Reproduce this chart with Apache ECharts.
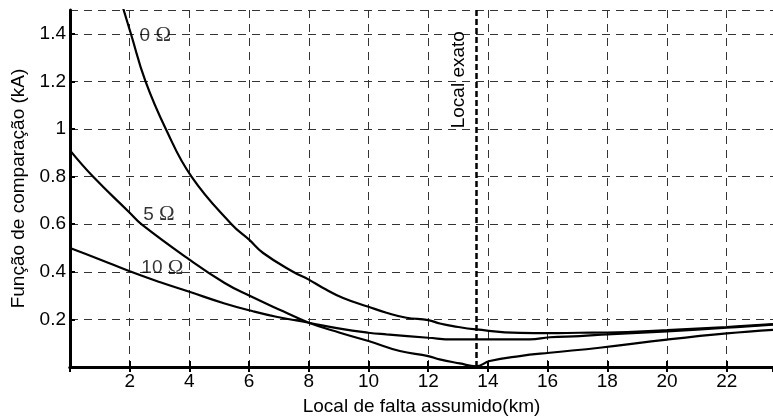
<!DOCTYPE html>
<html>
<head>
<meta charset="utf-8">
<script src="https://cdn.jsdelivr.net/npm/echarts@6/dist/echarts.min.js"></script>
<style>
  html, body { margin: 0; padding: 0; background: #fff; }
  #chart { width: 773px; height: 417px; }
</style>
</head>
<body>
<div id="chart"></div>
<script>
// curves (km, kA)
const x0 = [1.75, 2.04, 2.53, 3.21, 4.07, 5.41, 6.0, 6.47, 7.47, 8.0, 8.48, 9.15, 10.0, 10.6, 11.27, 12.0, 12.39, 12.83, 13.6, 15.07, 16.07, 17.07, 18, 20, 22, 23.55];
const y0 = [1.52, 1.4, 1.2, 1.0, 0.8, 0.6, 0.535, 0.479, 0.4, 0.367, 0.332, 0.29, 0.253, 0.228, 0.207, 0.197, 0.183, 0.172, 0.158, 0.143, 0.142, 0.144, 0.145, 0.155, 0.168, 0.18];

const x5 = [0, 0.77, 2, 2.39, 4, 5.18, 6, 7.14, 8, 9.04, 10, 11.05, 12, 12.38, 13.06, 13.6, 14.06, 15.07, 16.07, 17.74, 20, 22, 23.55];
const y5 = [0.91, 0.8, 0.648, 0.6, 0.451, 0.353, 0.3, 0.234, 0.186, 0.144, 0.109, 0.067, 0.046, 0.032, 0.015, 0.003, 0.025, 0.046, 0.06, 0.081, 0.115, 0.141, 0.156];

const x10 = [0, 1, 2, 3, 4, 5.18, 6.13, 6.91, 8, 9.04, 10, 10.6, 12, 12.83, 15.4, 16.07, 17.07, 18, 20, 22, 23.55];
const y10 = [0.5, 0.452, 0.402, 0.357, 0.316, 0.267, 0.234, 0.211, 0.186, 0.161, 0.144, 0.137, 0.123, 0.116, 0.116, 0.125, 0.13, 0.137, 0.15, 0.165, 0.178];

const exactLocation = 13.6;
const exactLabelTop = 1.445;

// curve labels: [x, y, resistance]
const curveLabels = [[2.33, 1.392, '0'], [2.45, 0.639, '5'], [2.39, 0.416, '10']];

const font = '"Liberation Sans", Arial, sans-serif';

function pairs(xs, ys) {
  return xs.map((x, i) => [x, ys[i]]);
}

function curve(name, xs, ys) {
  return {
    name: name,
    type: 'line',
    data: pairs(xs, ys),
    showSymbol: false,
    symbol: 'none',
    smooth: 0.45,
    clip: true,
    lineStyle: { color: '#000', width: 2.2 },
    animation: false
  };
}

const chart = echarts.init(document.getElementById('chart'));

const series = [
  curve('0', x0, y0),
  curve('5', x5, y5),
  curve('10', x10, y10),
  {
    type: 'scatter',
    data: curveLabels.map(d => [d[0], d[1], d[2]]),
    symbolSize: 0,
    animation: false,
    label: {
      show: true,
      position: 'right',
      distance: 0,
      formatter: p => p.value[2] + ' {o|Ω}',
      color: '#000',
      fontFamily: font,
      fontSize: 19,
      rich: { o: { fontFamily: '"Liberation Serif", "Times New Roman", serif', fontSize: 21, color: '#000' } }
    }
  }
];

// vertical marker for the exact location
series[0].markLine = {
  silent: true,
  symbol: 'none',
  animation: false,
  lineStyle: { color: '#000', width: 2.5, type: [6, 3] },
  label: { show: false },
  data: [{ xAxis: exactLocation }]
};

// its label sits on a transparent segment that stops below the top
series[1].markLine = {
  silent: true,
  symbol: 'none',
  animation: false,
  lineStyle: { color: 'transparent', width: 1 },
  label: {
    show: true,
    position: 'insideEndTop',
    formatter: 'Local exato',
    color: '#000',
    fontFamily: font,
    fontSize: 19,
    distance: 8
  },
  data: [[{ coord: [exactLocation, 0] }, { coord: [exactLocation, exactLabelTop] }]]
};

chart.setOption({
  backgroundColor: '#fff',
  grid: { left: 70, right: 0, top: 10, bottom: 50, outerBoundsMode: 'none' },
  xAxis: [
    {
      type: 'value',
      min: 0,
      max: 23.55,
      interval: 2,
      position: 'bottom',
      name: 'Local de falta assumido(km)',
      nameLocation: 'middle',
      nameGap: 30,
      nameTextStyle: { color: '#000', fontFamily: font, fontSize: 19 },
      axisLine: { show: true, onZero: false, lineStyle: { color: '#000', width: 3 } },
      axisTick: { show: true, inside: true, length: 6, lineStyle: { color: '#000', width: 2 } },
      axisLabel: { color: '#000', fontFamily: font, fontSize: 19, margin: 5, showMinLabel: false, showMaxLabel: false },
      splitLine: { show: true, lineStyle: { color: '#333', width: 1, type: [8, 6] } }
    },
    {
      type: 'value',
      min: 0,
      max: 23.55,
      interval: 2,
      position: 'top',
      axisLine: { show: true, lineStyle: { color: '#000', width: 3 } },
      axisTick: { show: true, inside: true, length: 5, lineStyle: { color: '#000', width: 2 } },
      axisLabel: { show: false },
      splitLine: { show: false }
    }
  ],
  yAxis: {
    type: 'value',
    min: 0,
    max: 1.5,
    interval: 0.2,
    name: 'Função de comparação (kA)',
    nameLocation: 'middle',
    nameGap: 31,
    nameTextStyle: { color: '#000', fontFamily: font, fontSize: 19 },
    axisLine: { show: true, onZero: false, lineStyle: { color: '#000', width: 3 } },
    axisTick: { show: true, inside: true, length: 5, lineStyle: { color: '#000', width: 2 } },
    axisLabel: { color: '#000', fontFamily: font, fontSize: 19, margin: 4, showMinLabel: false, showMaxLabel: false },
    splitLine: { show: true, lineStyle: { color: '#333', width: 1, type: [8, 6] } }
  },
  series: series
});
</script>
</body>
</html>
